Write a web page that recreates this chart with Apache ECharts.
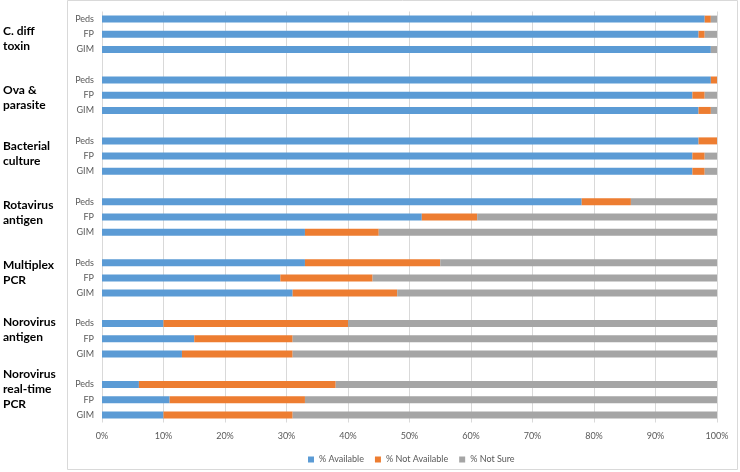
<!DOCTYPE html>
<html>
<head>
<meta charset="utf-8">
<script src="https://cdn.jsdelivr.net/npm/echarts@6/dist/echarts.min.js"></script>
<style>html,body{margin:0;padding:0;background:#fff;}#c{width:740px;height:472px;}</style>
</head>
<body>
<div id="c"></div>
<script>
// ---- data ----
var groups = ['C. diff\ntoxin', 'Ova &\nparasite', 'Bacterial\nculture', 'Rotavirus\nantigen', 'Multiplex\nPCR', 'Norovirus\nantigen', 'Norovirus\nreal-time\nPCR'];
var subgroups = ['Peds', 'FP', 'GIM'];
var seriesNames = ['% Available', '% Not Available', '% Not Sure'];
var available = [[98, 97, 99], [99, 96, 97], [97, 96, 96], [78, 52, 33], [33, 29, 31], [10, 15, 13], [6, 11, 10]];
var notAvailable = [[1, 1, 0], [1, 2, 2], [3, 2, 2], [8, 9, 12], [22, 15, 17], [30, 16, 18], [32, 22, 21]];
var notSure = [[1, 2, 1], [0, 2, 1], [0, 2, 2], [14, 39, 55], [45, 56, 52], [60, 69, 69], [62, 67, 69]];
var xTicks = [0, 10, 20, 30, 40, 50, 60, 70, 80, 90, 100];

// ---- styling helpers (not data) ----
var groupShift = [4, 2.5, -2, -4.5, -5.5, -9.5, -11];
var colors = ['#5b9bd5', '#ed7d31', '#a5a5a5'];
var FONT = 'Lato';

// flatten into rows with blank spacer rows between groups
var rowLabels = [], groupLabels = [];
function flat(arr) {
  var out = [];
  arr.forEach(function (g, gi) {
    g.forEach(function (v) { out.push(v); });
    if (gi < arr.length - 1) out.push(null);
  });
  return out;
}
groups.forEach(function (g, gi) {
  subgroups.forEach(function (s, si) {
    rowLabels.push(s);
    groupLabels.push(si === 1 ? g : '');
  });
  if (gi < groups.length - 1) { rowLabels.push(''); groupLabels.push(''); }
});
var seriesData = [flat(available), flat(notAvailable), flat(notSure)];

var rich = { b: { fontSize: 12, fontWeight: 'bold', color: '#000', lineHeight: 15, fontFamily: FONT, align: 'left' } };
groupShift.forEach(function (d, gi) {
  rich['sp' + gi] = { fontSize: 1, lineHeight: Math.max(0.01, Math.abs(d) * 2) };
});
function groupFormatter(value) {
  var gi = groups.indexOf(value);
  if (gi < 0) return '';
  var body = value.split('\n').map(function (l) { return '{b|' + l + '}'; }).join('\n');
  var d = groupShift[gi];
  if (d < 0) return body + '\n{sp' + gi + '| }';
  if (d > 0) return '{sp' + gi + '| }\n' + body;
  return body;
}

var chart = echarts.init(document.getElementById('c'));
chart.setOption({
  animation: false,
  backgroundColor: '#ffffff',
  textStyle: { fontFamily: FONT },
  graphic: [{
    type: 'rect', shape: { x: 67.5, y: 0.5, width: 670, height: 469 },
    style: { fill: 'none', stroke: '#d9d9d9', lineWidth: 1 }, silent: true
  }],
  grid: { left: 102, right: 23, top: 11.5, bottom: 49.5, containLabel: false, outerBoundsMode: 'none' },
  legend: {
    data: seriesNames, left: 303, top: 450, icon: 'rect', itemWidth: 6, itemHeight: 6, itemGap: 11,
    textStyle: { fontSize: 9, color: '#595959', fontFamily: FONT }
  },
  xAxis: {
    type: 'value', min: xTicks[0], max: xTicks[xTicks.length - 1], interval: xTicks[1] - xTicks[0],
    axisLine: { show: false }, axisTick: { show: false },
    splitLine: { show: true, lineStyle: { color: '#d9d9d9', width: 1 } },
    axisLabel: { formatter: '{value}%', fontSize: 9, color: '#595959', margin: 9, fontFamily: FONT }
  },
  yAxis: [{
    type: 'category', inverse: true, data: rowLabels,
    axisLine: { show: false }, axisTick: { show: false },
    axisLabel: { interval: 0, fontSize: 9, color: '#595959', margin: 8, fontFamily: FONT }
  }, {
    type: 'category', inverse: true, data: groupLabels, position: 'left',
    axisLine: { show: false }, axisTick: { show: false },
    axisLabel: { interval: 0, align: 'left', margin: 99, formatter: groupFormatter, rich: rich,
      hideOverlap: false }
  }],
  series: seriesNames.map(function (n, i) {
    return {
      name: n, type: 'bar', stack: 'total', data: seriesData[i], barWidth: 7,
      itemStyle: { color: colors[i] }, yAxisIndex: 0
    };
  })
});
</script>
</body>
</html>
